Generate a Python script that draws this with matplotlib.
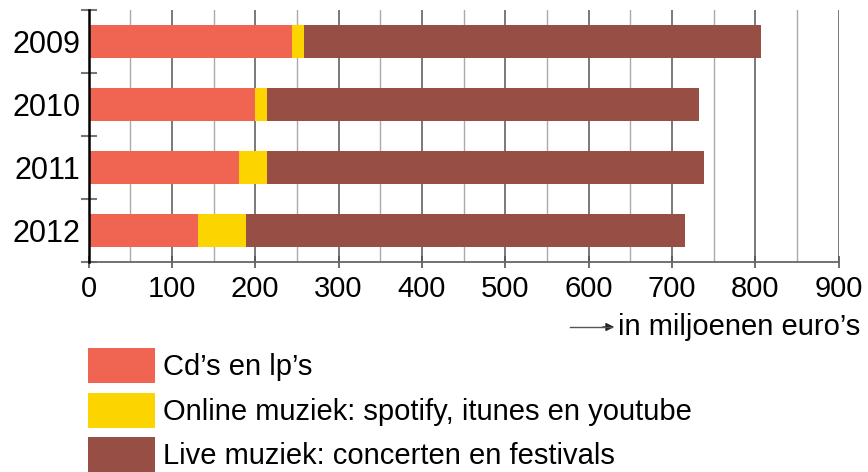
"""
Stacked bar chart: music spending in the Netherlands 2009-2012.
"""
import matplotlib
matplotlib.use('Agg')
import matplotlib.pyplot as plt
from matplotlib.patches import Rectangle
from matplotlib.ticker import MultipleLocator, FixedLocator

plt.rcParams['font.family'] = ['Liberation Sans', 'DejaVu Sans']

years = ['2009', '2010', '2011', '2012']
cds = [244, 200, 180, 131]
online = [14, 14, 34, 58]
live = [549, 518, 524, 527]
labels = ["Cd\u2019s en lp\u2019s",
          "Online muziek: spotify, itunes en youtube",
          "Live muziek: concerten en festivals"]
colors = ['#F06552', '#FCD400', '#964E45']
xticks = list(range(0, 1000, 100))

W, H = 868, 472
fig = plt.figure(figsize=(W / 100, H / 100), dpi=100)
ax = fig.add_axes([88.5 / W, (H - 262) / H, 750 / W, 252 / H])

pos = list(range(len(years)))
left = [0] * len(years)
for vals, col in zip([cds, online, live], colors):
    ax.barh(pos, vals, left=left, height=0.53, color=col, edgecolor='none', zorder=3)
    left = [a + b for a, b in zip(left, vals)]

ax.set_xlim(0, 900)
ax.set_ylim(3.5, -0.5)

# grid: dark at hundreds, light at fifties
ax.xaxis.set_major_locator(FixedLocator(xticks))
ax.xaxis.set_minor_locator(MultipleLocator(50))
ax.grid(axis='x', which='major', color='#555555', lw=1.1, zorder=1)
ax.grid(axis='x', which='minor', color='#aaaaaa', lw=1.0, zorder=1)
ax.tick_params(axis='x', which='major', direction='inout', length=9, width=1.2,
               color='#555555', labelsize=21, pad=5)
ax.tick_params(axis='x', which='minor', length=0)

ax.set_yticks(pos)
ax.set_yticklabels(years)
ax.yaxis.set_minor_locator(FixedLocator([-0.5, 0.5, 1.5, 2.5, 3.5]))
ax.tick_params(axis='y', which='major', length=0, labelsize=22, pad=6)
ax.tick_params(axis='y', which='minor', direction='inout', length=12, width=1.5,
               color='#777777')

for s in ['top', 'right']:
    ax.spines[s].set_visible(False)
ax.spines['left'].set_color('black')
ax.spines['left'].set_linewidth(1.8)
ax.spines['left'].set_zorder(4)
ax.spines['bottom'].set_color('#666666')
ax.spines['bottom'].set_linewidth(1.3)

# unit label with arrow
fig.add_artist(plt.Line2D([570 / W, 612 / W], [(H - 327) / H] * 2, color='#555555', lw=1))
ax.annotate('', xy=(617 / W, (H - 327) / H), xytext=(600 / W, (H - 327) / H),
            xycoords='figure fraction', textcoords='figure fraction',
            arrowprops=dict(arrowstyle='-|>', color='#222222', lw=1, mutation_scale=12))
fig.text(618 / W, (H - 327) / H, "in miljoenen euro\u2019s", fontsize=21,
         va='center', ha='left')

# legend
box_tops = [348, 393, 437]
for top, lab, col in zip(box_tops, labels, colors):
    fig.add_artist(Rectangle((88 / W, (H - top - 35) / H), 67 / W, 35 / H,
                             transform=fig.transFigure, color=col, lw=0))
    fig.text(163 / W, (H - top - 19) / H, lab, fontsize=21, va='center', ha='left')

fig.savefig('out.png', dpi=100)
